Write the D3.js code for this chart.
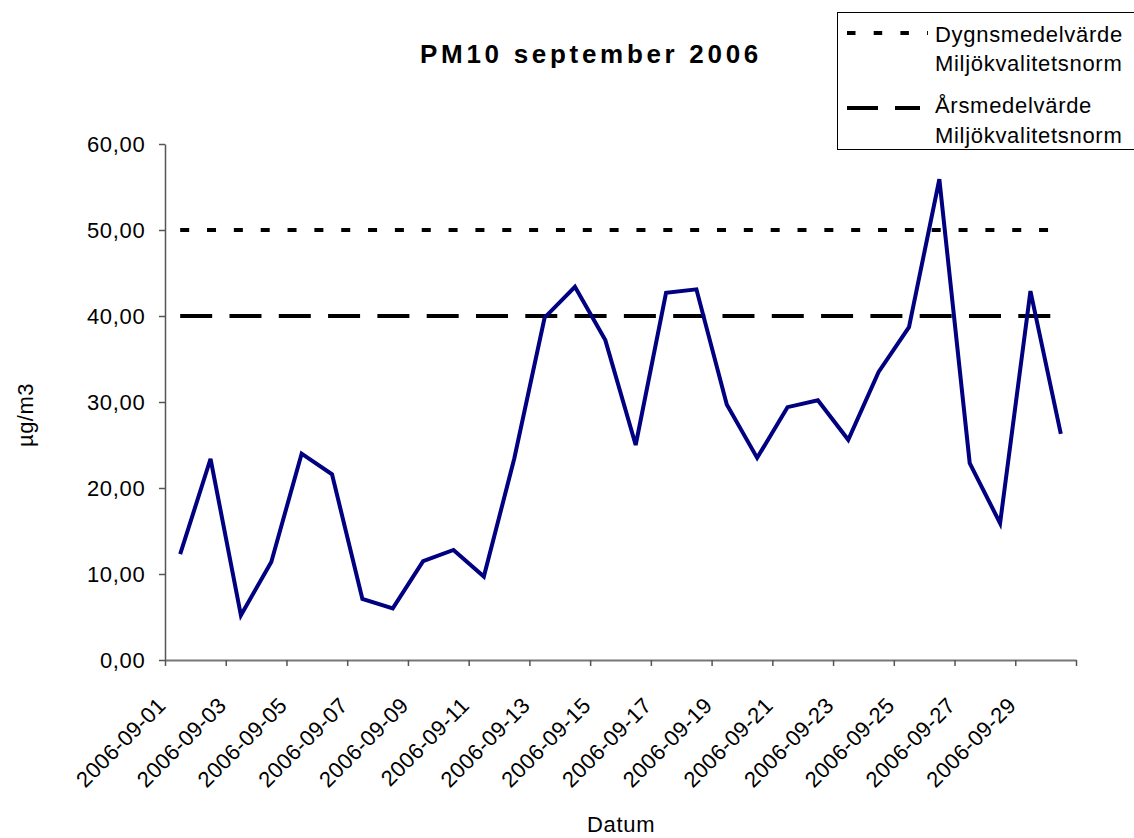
<!DOCTYPE html>
<html>
<head>
<meta charset="utf-8">
<script src="https://cdn.jsdelivr.net/npm/d3@7"></script>
<style>
  html, body { margin: 0; padding: 0; background: #fff; }
  svg { display: block; font-family: "Liberation Sans", Arial, sans-serif; }
</style>
</head>
<body>
<svg id="chart" width="1134" height="838"></svg>
<script>
// ---- Data ----
const dates = [
  "2006-09-01","2006-09-02","2006-09-03","2006-09-04","2006-09-05","2006-09-06",
  "2006-09-07","2006-09-08","2006-09-09","2006-09-10","2006-09-11","2006-09-12",
  "2006-09-13","2006-09-14","2006-09-15","2006-09-16","2006-09-17","2006-09-18",
  "2006-09-19","2006-09-20","2006-09-21","2006-09-22","2006-09-23","2006-09-24",
  "2006-09-25","2006-09-26","2006-09-27","2006-09-28","2006-09-29","2006-09-30"
];
const pm10 = [
  12.3, 23.4, 5.2, 11.4, 24.0, 21.6,
  7.1, 6.0, 11.5, 12.8, 9.7, 23.4,
  39.8, 43.4, 37.2, 25.0, 42.7, 43.1,
  29.7, 23.5, 29.4, 30.2, 25.6, 33.5,
  38.7, 55.9, 22.9, 15.9, 42.9, 26.3
];
const dailyLimit = 50;   // Dygnsmedelvärde Miljökvalitetsnorm
const annualLimit = 40;  // Årsmedelvärde Miljökvalitetsnorm
const yTicks = [0, 10, 20, 30, 40, 50, 60];
const chartTitle = "PM10 september 2006";
const yTitle = "µg/m3";
const xTitle = "Datum";
const legendLabels = [["Dygnsmedelvärde", "Miljökvalitetsnorm"], ["Årsmedelvärde", "Miljökvalitetsnorm"]];

// ---- Layout ----
const svg = d3.select("#chart");
const pLeft = 165, pRight = 1076, pTop = 144, pBottom = 660;
const FS = 22, LS = 0.7;

const x = d3.scaleBand().domain(dates).range([pLeft, pRight]).padding(0);
const xIdx = d3.scaleLinear().domain([0, dates.length]).range([pLeft, pRight]);
const y = d3.scaleLinear().domain([0, 60]).range([pBottom, pTop]);
const cx = d => x(d) + x.bandwidth() / 2;

// Title
svg.append("text")
  .attr("x", 420).attr("y", 63)
  .attr("font-size", 26).attr("font-weight", "bold")
  .attr("letter-spacing", 3.7)
  .text(chartTitle);

// Y axis
const yAxis = svg.append("g").attr("transform", `translate(${pLeft},0)`)
  .call(d3.axisLeft(y).tickValues(yTicks).tickSize(6).tickSizeOuter(0)
    .tickFormat(d => d.toFixed(2).replace(".", ",")));
yAxis.select(".domain").attr("stroke", "#555").attr("stroke-width", 1.5);
yAxis.selectAll(".tick line").attr("stroke", "#555").attr("stroke-width", 1.5);
yAxis.selectAll(".tick text")
  .attr("font-size", FS).attr("letter-spacing", LS)
  .attr("font-family", "Liberation Sans, Arial, sans-serif")
  .attr("fill", "#000").attr("x", -19.5).attr("dy", "0.35em");

// X axis
const xTickVals = d3.range(0, dates.length + 1, 2);
const xAxis = svg.append("g").attr("transform", `translate(0,${pBottom})`)
  .call(d3.axisBottom(xIdx).tickValues(xTickVals).tickSize(6).tickSizeOuter(0)
    .tickFormat(() => ""));
xAxis.select(".domain").attr("stroke", "#777").attr("stroke-width", 2);
xAxis.selectAll(".tick line").attr("stroke", "#555").attr("stroke-width", 1.5);

// X tick labels (every other date), rotated -45
const labelDates = dates.filter((d, i) => i % 2 === 0);
svg.append("g").selectAll("text")
  .data(labelDates)
  .join("text")
  .attr("font-size", FS).attr("letter-spacing", 0.3)
  .attr("text-anchor", "end")
  .attr("transform", d => `translate(${x(d) + 2},${pBottom + 47}) rotate(-45)`)
  .text(d => d);

// Axis titles
svg.append("text")
  .attr("transform", `translate(33,415) rotate(-90)`)
  .attr("text-anchor", "middle")
  .attr("font-size", FS).attr("letter-spacing", 0.5)
  .text(yTitle);
svg.append("text")
  .attr("x", 587).attr("y", 832)
  .attr("font-size", FS).attr("letter-spacing", LS)
  .text(xTitle);

// Reference lines
const first = dates[0], last = dates[dates.length - 1];
svg.append("line")
  .attr("x1", cx(first)).attr("x2", cx(last))
  .attr("y1", y(dailyLimit)).attr("y2", y(dailyLimit))
  .attr("stroke", "#000").attr("stroke-width", 4)
  .attr("stroke-dasharray", "9,17.84");
svg.append("line")
  .attr("x1", cx(first)).attr("x2", cx(last))
  .attr("y1", y(annualLimit)).attr("y2", y(annualLimit))
  .attr("stroke", "#000").attr("stroke-width", 4)
  .attr("stroke-dasharray", "32,17.3");

// PM10 line
const line = d3.line().x((d, i) => cx(dates[i])).y(d => y(d));
svg.append("path")
  .datum(pm10)
  .attr("d", line)
  .attr("fill", "none")
  .attr("stroke", "#000080")
  .attr("stroke-width", 4)
  .attr("stroke-linejoin", "miter");

// Legend
const lg = svg.append("g");
lg.append("rect")
  .attr("x", 837.5).attr("y", 12.5).attr("width", 320).attr("height", 137)
  .attr("fill", "#fff").attr("stroke", "#000").attr("stroke-width", 1);
lg.append("line").attr("x1", 847).attr("x2", 928).attr("y1", 33).attr("y2", 33)
  .attr("stroke", "#000").attr("stroke-width", 4).attr("stroke-dasharray", "8.5,18.2");
lg.append("line").attr("x1", 847).attr("x2", 920).attr("y1", 108).attr("y2", 108)
  .attr("stroke", "#000").attr("stroke-width", 4).attr("stroke-dasharray", "31,17");
const baselines = [[42, 71], [113, 143]];
legendLabels.forEach((pair, i) => {
  pair.forEach((t, j) => {
    lg.append("text")
      .attr("x", 935).attr("y", baselines[i][j])
      .attr("font-size", FS).attr("letter-spacing", LS)
      .text(t);
  });
});
</script>
</body>
</html>
